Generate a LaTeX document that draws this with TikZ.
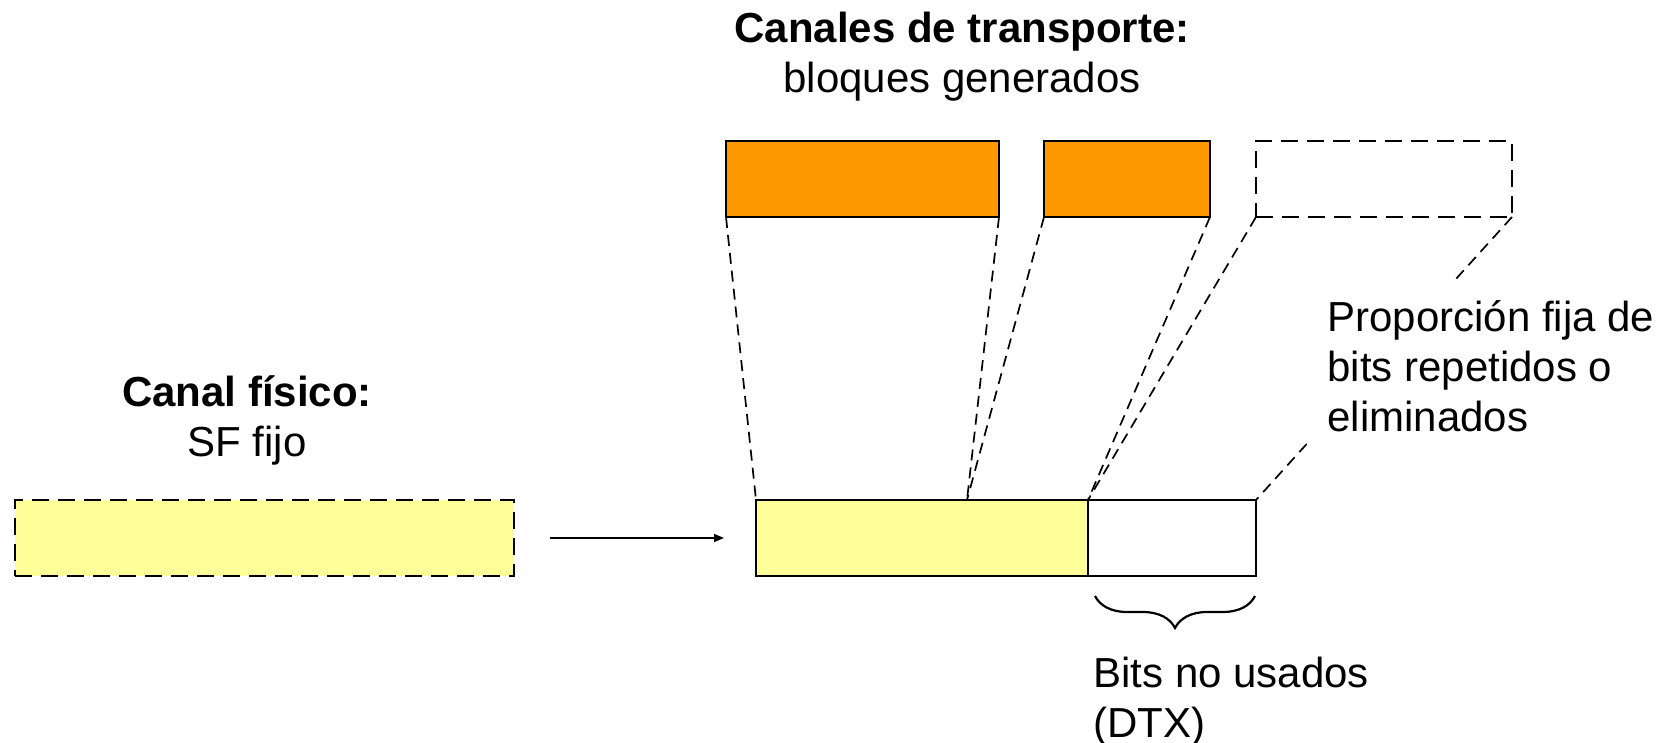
\documentclass[tikz,border=0pt]{standalone}
\usepackage{fontspec}
\setmainfont{Liberation Sans}
\usetikzlibrary{positioning,arrows.meta,decorations.pathreplacing}
\definecolor{naranja}{RGB}{255,153,0}
\definecolor{amarillo}{RGB}{255,255,153}

\begin{document}
\begin{tikzpicture}[x=.5pt,y=-.5pt,
    blk/.style={draw,line width=1.3pt,inner sep=0pt,outer sep=0pt,minimum height=38pt},
    guia/.style={dash pattern=on 5.5pt off 3.5pt,line width=.85pt},
    txt/.style={font=\fontsize{21}{25}\selectfont,align=center,inner sep=0pt}]
  \useasboundingbox (0,0) rectangle (1670,743);
  % bloques de los canales de transporte
  \node[blk,fill=naranja,minimum width=136.5pt] (tb1) at (862.5,179) {};
  \node[blk,fill=naranja,minimum width=83pt,right=22.5pt of tb1] (tb2) {};
  \node[blk,dash pattern=on 8.5pt off 4.5pt,minimum width=128pt,right=23pt of tb2] (tb3) {};
  % canal fisico
  \node[blk,fill=amarillo,dash pattern=on 8.5pt off 4.5pt,minimum width=249.5pt] (sf) at (264.5,538) {};
  \node[blk,fill=amarillo,minimum width=166pt] (phy) at (922,538) {};
  \node[blk,minimum width=84pt,right=0pt of phy] (dtx) {};
  \coordinate (m1) at ([xshift=22.5pt]phy.north);

  \draw[guia] (tb1.south west) -- (phy.north west);
  \draw[guia] (tb1.south east) -- (m1);
  \draw[guia] (tb2.south west) -- (m1);
  \draw[guia] (tb2.south east) -- (dtx.north west);
  \draw[guia] (tb3.south west) -- (dtx.north west);
  \draw[guia] (tb3.south east) -- (dtx.north east);

  \draw[line width=.8pt,-{Triangle[length=5pt,width=4pt]},shorten <=18pt,shorten >=16pt] (sf) -- (phy);

  \node[txt] (tit) at (962,57) {\textbf{Canales de transporte:}\\bloques generados};
  \node[txt] (can) at (247,420) {\textbf{Canal físico:}\\SF fijo};
  \node[txt,align=left,fill=white,inner sep=10pt,anchor=north west] (prop) at (1307,280) {Proporción fija de\\bits repetidos o\\eliminados};

  % llave bajo los bits no usados
  \coordinate (b1) at ([xshift=3.5pt,yshift=-10pt]dtx.south west);
  \coordinate (b2) at ([xshift=-.5pt,yshift=-10pt]dtx.south east);
  \draw[line width=1.1pt,decorate,decoration={brace,mirror,amplitude=16pt}] (b1) -- (b2);
  \node[txt,align=left,anchor=north west] (nu) at (1093,657) {Bits no usados\\(DTX)};
\end{tikzpicture}
\end{document}
